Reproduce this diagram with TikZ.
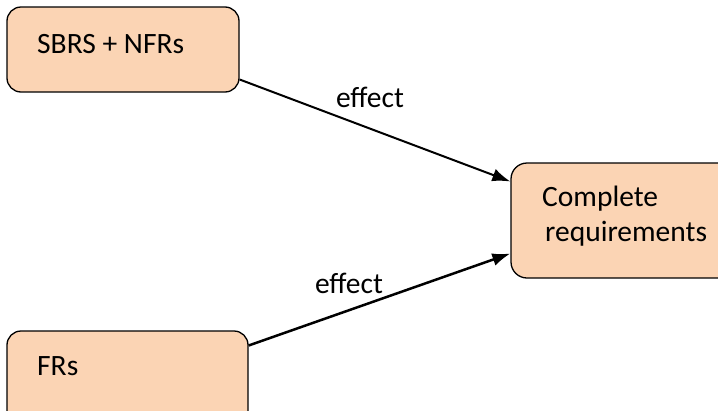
\documentclass[tikz,border=0pt]{standalone}
\usepackage{fontspec}
\setmainfont{Carlito}
\usetikzlibrary{arrows.meta}
\definecolor{peach}{HTML}{FBD4B4}
\tikzset{
  box/.style={draw=black, line width=1.3pt, fill=peach, rounded corners=14pt, inner sep=0pt},
  lbl/.style={font=\fontsize{29.5}{34}\selectfont, inner sep=0pt},
  arr/.style={-{Latex[length=18pt,width=13pt]}, line width=2pt},
}
\begin{document}
\begin{tikzpicture}[x=1pt,y=-1pt]
\useasboundingbox (0,0) rectangle (718,410);
\clip (0,0) rectangle (718,410);
\node[box, minimum width=232pt, minimum height=85pt] (sbrs) at (123,49.5) {};
\node[box, minimum width=241pt, minimum height=99pt] (frs) at (127.5,380.5) {};
\node[box, minimum width=240pt, minimum height=115pt, rounded corners=16pt] (req) at (631,220.5) {};
\node[lbl, anchor=base west] (t1) at (37,53) {SBRS + NFRs};
\node[lbl, anchor=base west] (t2) at (37,375) {FRs};
\node[lbl, anchor=base west] (t3) at (542,206) {Complete};
\node[lbl, anchor=base west] (t4) at (545,241) {requirements};
\draw[arr] ([yshift=-30pt]sbrs.east) -- ([yshift=39pt]req.west);
\draw[arr, line width=2.5pt] ([yshift=35pt]frs.east) -- ([yshift=-33pt]req.west);
\node[lbl, anchor=base] (e1) at (370,107) {effect};
\node[lbl, anchor=base] (e2) at (349,293) {effect};
\end{tikzpicture}
\end{document}
